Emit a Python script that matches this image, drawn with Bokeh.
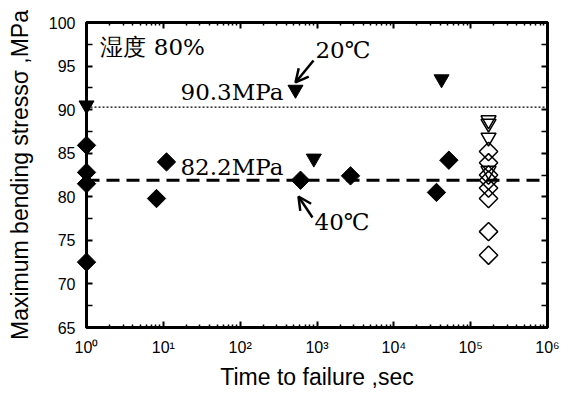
import numpy as np
from bokeh.plotting import figure
from bokeh.models import (LogAxis, LinearAxis, FixedTicker, Range1d, Span, Arrow,
                          OpenHead, CustomJSTickFormatter)
from bokeh.core.properties import value
from bokeh.embed import file_html
from bokeh.resources import INLINE

# ---------------- data ----------------
# 40 C (filled diamonds)
t_40C = [1, 1, 1, 1, 8.15, 11.0, 610, 2730, 35900, 52000]
s_40C = [85.9, 82.8, 81.5, 72.5, 79.8, 84.0, 81.9, 82.4, 80.5, 84.2]
# 20 C (filled inverted triangles)
t_20C = [1, 525, 909, 41800]
s_20C = [90.5, 92.3, 84.4, 93.5]
# run-outs (open markers)
t_open_d = [170800] * 8
s_open_d = [85.2, 83.9, 82.5, 81.9, 81.0, 79.8, 76.0, 73.3]
t_open_t = [170800] * 4
s_open_t = [88.8, 88.4, 86.8, 83.0]

mean_20C = 90.3
mean_40C = 81.9
mean_20C_label = "90.3MPa"
mean_40C_label = "82.2MPa"
humidity_label = "湿度 80%"

x_ticks = [1, 10, 100, 1000, 10000, 100000, 1000000]
x_tick_labels = ["10⁰", "10¹", "10²", "10³", "10⁴", "10⁵", "10⁶"]
x_minor = [m * 10 ** d for d in range(6) for m in range(2, 10)]
y_ticks = [65, 70, 75, 80, 85, 90, 95, 100]
y_minor = [67.5, 72.5, 77.5, 82.5, 87.5, 92.5, 97.5]

SERIF = value("DejaVu Serif")
SANS = "Liberation Sans"

p = figure(width=569, height=394, x_axis_type="log",
           x_range=Range1d(1, 1e6), y_range=Range1d(65, 100),
           output_backend="svg", toolbar_location=None,
           min_border_left=86, min_border_right=22,
           min_border_top=22, min_border_bottom=67)
p.grid.visible = False
p.outline_line_color = "black"
p.outline_line_width = 3
p.background_fill_color = "white"
p.border_fill_color = "white"

xt = FixedTicker(ticks=x_ticks, minor_ticks=x_minor)
yt = FixedTicker(ticks=y_ticks, minor_ticks=y_minor)

def style(ax, minor_len):
    ax.axis_line_width = 3
    ax.axis_line_color = "black"
    ax.major_tick_in = 6
    ax.major_tick_out = 0
    ax.minor_tick_in = minor_len
    ax.minor_tick_out = 0
    ax.major_tick_line_width = 2
    ax.minor_tick_line_width = 1.5
    ax.major_tick_line_color = "black"
    ax.minor_tick_line_color = "black"
    ax.major_label_text_font = SANS
    ax.major_label_text_font_size = "16px"
    ax.major_label_text_color = "black"
    ax.axis_label_text_font = SANS
    ax.axis_label_text_font_size = "23px"
    ax.axis_label_text_font_style = "normal"
    ax.axis_label_text_color = "black"

xa = p.xaxis[0]
xa.ticker = xt
xa.formatter = CustomJSTickFormatter(args=dict(labels=x_tick_labels),
                                     code="return labels[Math.round(Math.log10(tick))];")
style(xa, 3)
xa.axis_label = "Time to failure ,sec"
xa.major_label_standoff = 11
xa.axis_label_standoff = 5

ya = p.yaxis[0]
ya.ticker = yt
style(ya, 6)
ya.axis_label = "Maximum bending stressσ ,MPa"
ya.major_label_standoff = 11
ya.axis_label_standoff = 13

top = LogAxis(ticker=xt, formatter=CustomJSTickFormatter(code="return '';"))
style(top, 3)
top.major_label_standoff = 0
p.add_layout(top, "above")

right = LinearAxis(ticker=yt, formatter=CustomJSTickFormatter(code="return '';"))
style(right, 6)
right.major_label_standoff = 0
p.add_layout(right, "right")

# mean lines
p.add_layout(Span(location=mean_20C, dimension="width", line_color="black",
                  line_width=1.3, line_dash="2 2"))
p.add_layout(Span(location=mean_40C, dimension="width", line_color="black",
                  line_width=3, line_dash="13 7"))

# markers
p.scatter(t_40C, s_40C, marker="square", angle=np.pi / 4, size=13,
          fill_color="black", line_color="black", level="overlay")
p.scatter(t_20C, s_20C, marker="inverted_triangle", size=15,
          fill_color="black", line_color="black", level="overlay")
p.scatter(t_open_d, s_open_d, marker="square", angle=np.pi / 4, size=13,
          fill_color=None, line_color="black", line_width=1.5, level="overlay")
p.scatter(t_open_t, s_open_t, marker="inverted_triangle", size=15,
          fill_color=None, line_color="black", line_width=1.5, level="overlay")

# annotation texts
def label(x, y, txt, align="left"):
    p.text(x=[x], y=[y], text=[txt], text_font=SERIF,
           text_font_size="23px", text_align=align, text_baseline="alphabetic",
           text_color="black")

label(1.52, 97.2, humidity_label)
label(366, 92.05, mean_20C_label, "right")
label(16.7, 83.44, mean_40C_label)
label(955, 96.87, "20℃")
label(929, 77.15, "40℃")

# arrows
p.add_layout(Arrow(end=OpenHead(size=13, line_width=2.5, line_color="black"),
                   x_start=901, y_start=95.64, x_end=525, y_end=93.12,
                   line_width=2.5, line_color="black"))
p.add_layout(Arrow(end=OpenHead(size=13, line_width=2.5, line_color="black"),
                   x_start=874, y_start=77.62, x_end=574, y_end=80.03,
                   line_width=2.5, line_color="black"))

open("out.html", "w").write(file_html(p, INLINE))
